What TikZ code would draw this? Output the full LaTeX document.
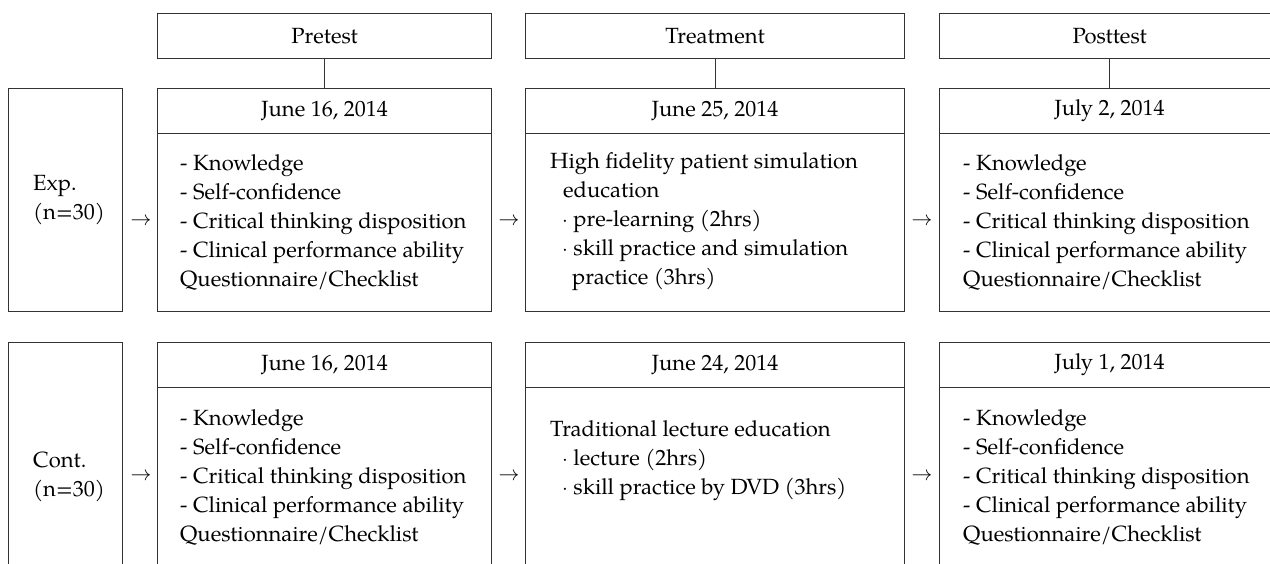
\documentclass[tikz,border=0pt]{standalone}
\usepackage{fontspec}
\setmainfont{TeX Gyre Pagella}
\begin{document}
\begin{tikzpicture}[x=1pt,y=-1pt,
  every node/.style={font=\fontsize{22}{29}\selectfont},
  box/.style={draw=black!80, line width=1.2pt, anchor=north west, inner sep=0pt},
  txt/.style={align=left, inner sep=0pt, anchor=west},
  arr/.style={inner sep=0pt},
  link/.style={draw=black!80, line width=1.2pt}]
\useasboundingbox (0,0) rectangle (1270,563);
\clip (0,0) rectangle (1270,563);
% headers
\node[box, minimum width=334, minimum height=45] (pre) at (157,13) {Pretest};
\node[box, minimum width=379, minimum height=45] (trt) at (525,13) {Treatment};
\node[box, minimum width=340, minimum height=45] (post) at (939,13) {Posttest};
% top row
\node[box, minimum width=114, minimum height=223] (g1) at (8,88) {};
\node[box, minimum width=334, minimum height=45] (d11) at (157,88) {June 16, 2014};
\node[box, minimum width=379, minimum height=45] (d12) at (525,88) {June 25, 2014};
\node[box, minimum width=340, minimum height=45] (d13) at (939,88) {July 2, 2014};
\node[box, minimum width=334, minimum height=178] (b11) at (157,133) {};
\node[box, minimum width=379, minimum height=178] (b12) at (525,133) {};
\node[box, minimum width=340, minimum height=178] (b13) at (939,133) {};
% bottom row
\node[box, minimum width=114, minimum height=271] (g2) at (8,342) {};
\node[box, minimum width=334, minimum height=45] (d21) at (157,342) {June 16, 2014};
\node[box, minimum width=379, minimum height=45] (d22) at (525,342) {June 24, 2014};
\node[box, minimum width=340, minimum height=45] (d23) at (939,342) {July 1, 2014};
\node[box, minimum width=334, minimum height=226] (b21) at (157,387) {};
\node[box, minimum width=379, minimum height=226] (b22) at (525,387) {};
\node[box, minimum width=340, minimum height=226] (b23) at (939,387) {};
% connectors
\draw[link] (pre.south) -- (d11.north);
\draw[link] (trt.south) -- (d12.north);
\draw[link] (post.south) -- (d13.north);
% group labels
\node[txt] (exp) at (33,200) {Exp.\\(n=30)};
\node[txt] (cont) at (33,477) {Cont.\\(n=30)};
% arrows
\node[arr] (a11) at (141,222) {$\rightarrow$};
\node[arr] (a12) at (509,222) {$\rightarrow$};
\node[arr] (a13) at (922,222) {$\rightarrow$};
\node[arr] (a21) at (141,477) {$\rightarrow$};
\node[arr] (a22) at (509,477) {$\rightarrow$};
\node[arr] (a23) at (922,477) {$\rightarrow$};
% body texts
\node[txt] (t11) at (180,222) {- Knowledge\\- Self-confidence\\- Critical thinking disposition\\- Clinical performance ability\\Questionnaire/Checklist};
\node[txt] (t12) at (550,222) {High fidelity patient simulation\\\hspace*{13pt}education\\\hspace*{12pt}$\cdot$ pre-learning (2hrs)\\\hspace*{12pt}$\cdot$ skill practice and simulation\\\hspace*{22pt}practice (3hrs)};
\node[txt] (t13) at (963,222) {- Knowledge\\- Self-confidence\\- Critical thinking disposition\\- Clinical performance ability\\Questionnaire/Checklist};
\node[txt] (t21) at (180,477) {- Knowledge\\- Self-confidence\\- Critical thinking disposition\\- Clinical performance ability\\Questionnaire/Checklist};
\node[txt] (t22) at (550,461) {Traditional lecture education\\\hspace*{12pt}$\cdot$ lecture (2hrs)\\\hspace*{12pt}$\cdot$ skill practice by DVD (3hrs)};
\node[txt] (t23) at (963,477) {- Knowledge\\- Self-confidence\\- Critical thinking disposition\\- Clinical performance ability\\Questionnaire/Checklist};
\end{tikzpicture}
\end{document}
